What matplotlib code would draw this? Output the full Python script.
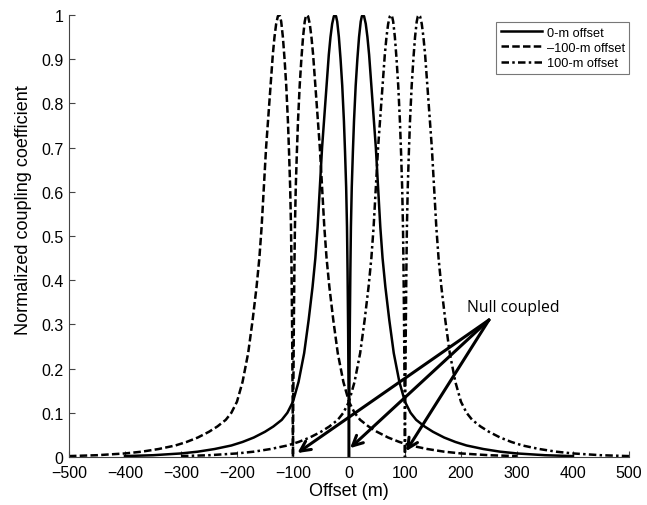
import matplotlib.pyplot as plt
import numpy as np

plt.rcParams['font.family'] = ['Liberation Sans', 'DejaVu Sans']

# coupling profile vs distance from the null point (m), same shape for each offset
dist = [0, 0.5, 1, 1.5, 2.5, 3.5, 5, 7, 9, 12, 15, 18, 21, 23, 25, 27, 30, 33, 36,
        40, 44, 48, 52, 56, 60, 65, 72, 80, 90, 100, 110, 120, 135, 150, 170, 190,
        210, 240, 270, 300, 350, 400]
coup = [0, 0.12, 0.2, 0.29, 0.42, 0.52, 0.61, 0.69, 0.76, 0.84, 0.9, 0.95, 0.985, 0.997,
        1.0, 0.997, 0.98, 0.95, 0.91, 0.84, 0.77, 0.70, 0.61, 0.52, 0.45, 0.385, 0.31,
        0.235, 0.17, 0.125, 0.1, 0.084, 0.069, 0.057, 0.044, 0.034, 0.026, 0.018,
        0.012, 0.008, 0.004, 0.002]

offsets = [0, -100, 100]
labels = ['0-m offset', '\u2013100-m offset', '100-m offset']
styles = ['-', (0, (3, 1.3)), (0, (3, 1.3, 1, 1.3))]

d = np.array(dist)
c = np.array(coup)
prof_x = np.concatenate([-d[::-1], d[1:]])
prof_y = np.concatenate([c[::-1], c[1:]])

fig = plt.figure(figsize=(6.47, 5.06), dpi=100)
ax = fig.add_axes([0.1066, 0.0949, 0.8655, 0.8735])

for off, lab, ls in zip(offsets, labels, styles):
    x = prof_x + off
    keep = (x >= -500) & (x <= 500)
    ax.plot(x[keep], prof_y[keep], color='black', linestyle=ls, linewidth=1.8, label=lab)

ax.set_xlim(-500, 500)
ax.set_ylim(0, 1)
ax.set_xticks(np.arange(-500, 501, 100))
ax.set_yticks(np.arange(0, 1.01, 0.1))
ax.set_yticklabels(['0', '0.1', '0.2', '0.3', '0.4', '0.5', '0.6', '0.7', '0.8', '0.9', '1'])
ax.tick_params(direction='in', labelsize=11.5, length=4, color='#444444', pad=4)
ax.tick_params(axis='x', pad=6)
for s in ['top', 'right']:
    ax.spines[s].set_visible(False)
for s in ['left', 'bottom']:
    ax.spines[s].set_color('#444444')
ax.set_xlabel('Offset (m)', fontsize=13, labelpad=1)
ax.set_ylabel('Normalized coupling coefficient', fontsize=13)
ax.yaxis.set_label_coords(-0.066, 0.56)

leg = ax.legend(loc='upper right', bbox_to_anchor=(1.012, 0.998), fontsize=9.2,
                frameon=True, fancybox=False, edgecolor='#555555',
                handlelength=3.2, handletextpad=0.4, borderpad=0.35, labelspacing=0.25)
leg.get_frame().set_linewidth(0.8)

# arrows pointing at the three null points
ax.text(293, 0.322, 'Null coupled', fontsize=11.3, family=['Open Sans', 'DejaVu Sans'],
        ha='center', va='bottom')
for tip in [(-92, 0.009), (2, 0.02), (102, 0.013)]:
    ax.annotate('', xy=tip, xytext=(250, 0.31),
                arrowprops=dict(arrowstyle='->', color='black', lw=2.2,
                                mutation_scale=18, shrinkA=0, shrinkB=0))

fig.savefig('out.png', dpi=100)
